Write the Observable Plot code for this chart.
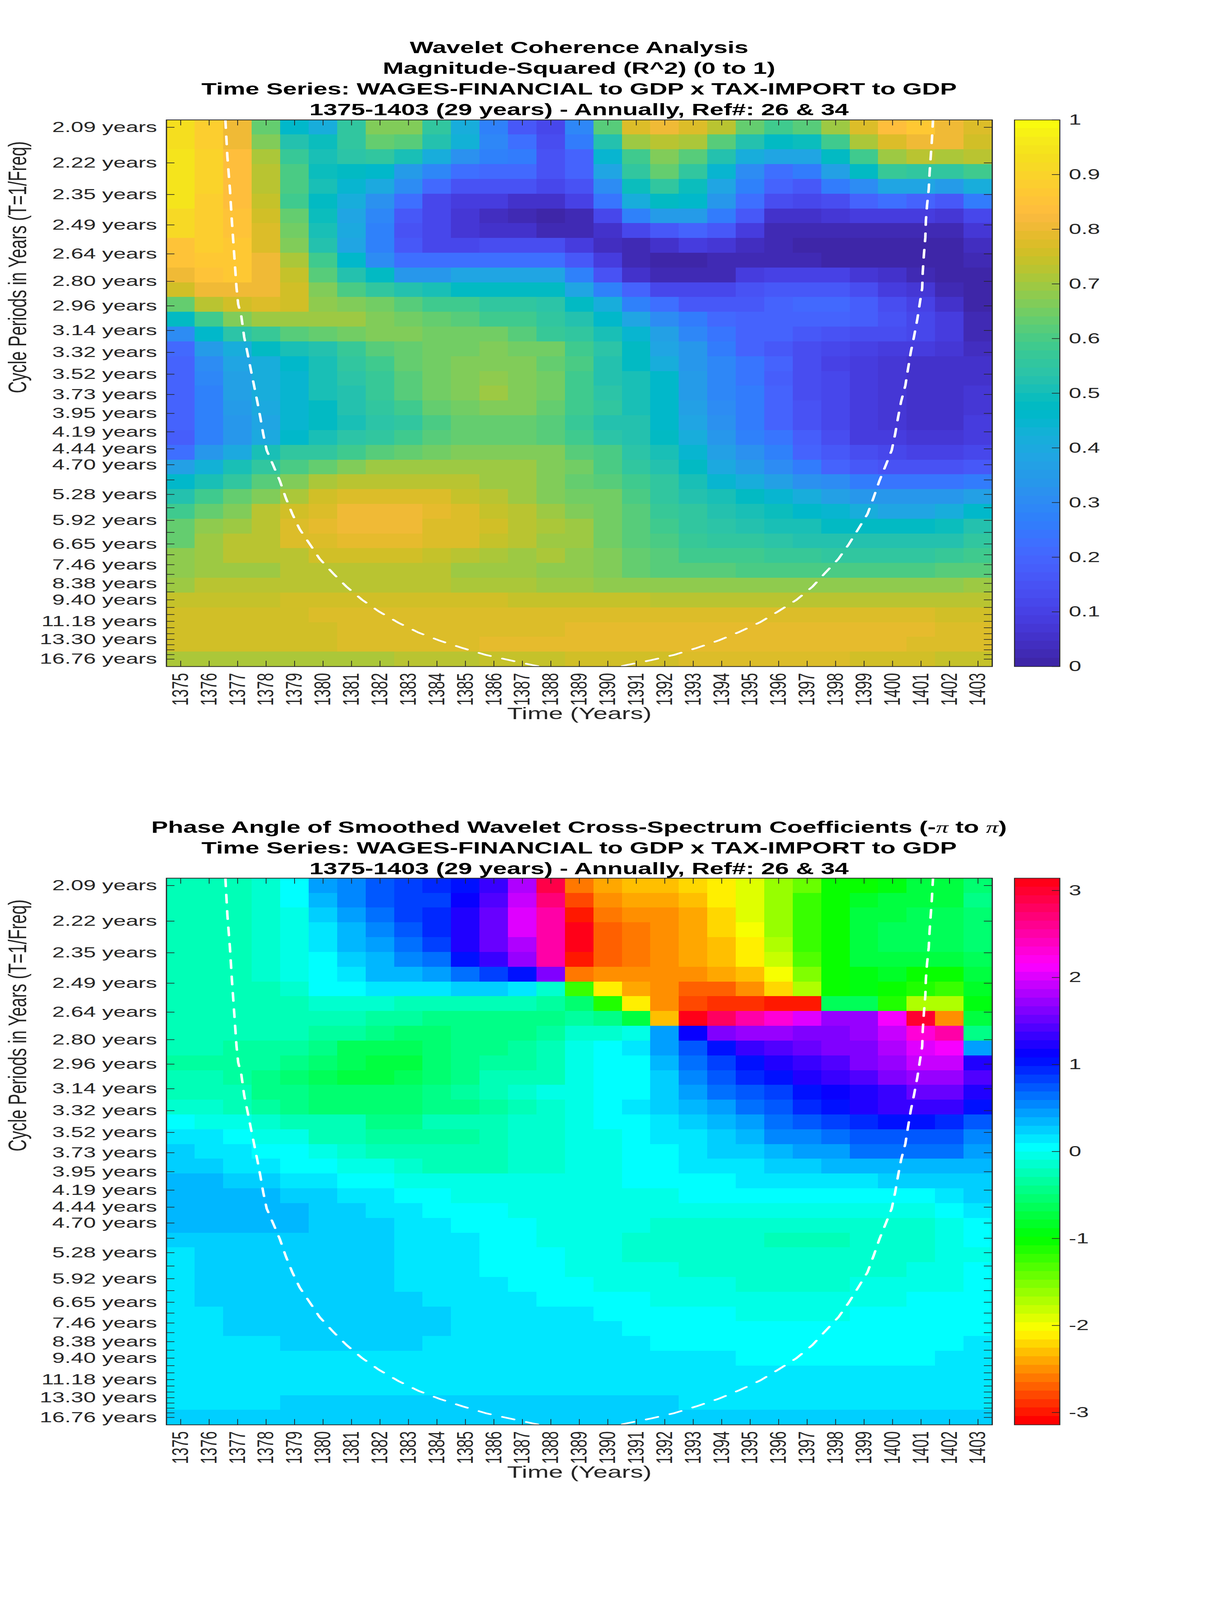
<!DOCTYPE html>
<html><head><meta charset="utf-8">
<script src="https://cdn.jsdelivr.net/npm/d3@7"></script>
<script src="https://cdn.jsdelivr.net/npm/@observablehq/plot@0.6"></script>
<style>
html,body{margin:0;padding:0;background:#fff;overflow:hidden;}
#page{position:relative;width:3125px;height:6252px;overflow:hidden;background:#fff;font-family:"Liberation Sans",Arial,sans-serif;transform-origin:0 0;}
.title{position:absolute;left:0;width:2964px;text-align:center;font-weight:bold;font-size:64px;line-height:81px;color:#000;white-space:pre;}
.pi{font-family:"Liberation Serif",serif;font-style:italic;font-weight:normal;}
</style></head><body><div id="page"></div>
<script>
const years=[1375,1376,1377,1378,1379,1380,1381,1382,1383,1384,1385,1386,1387,1388,1389,1390,1391,1392,1393,1394,1395,1396,1397,1398,1399,1400,1401,1402,1403];
const periods=[2.09,2.22,2.35,2.49,2.64,2.80,2.96,3.14,3.32,3.52,3.73,3.95,4.19,4.44,4.70,4.98,5.28,5.59,5.92,6.27,6.65,7.05,7.46,7.91,8.38,8.88,9.40,9.96,10.55,11.18,11.85,12.55,13.30,14.08,14.92,15.81,16.76];
const unlabelled=[4.98,5.59,6.27,7.05,7.91,8.88,9.96,10.55,11.85,12.55,14.08,14.92,15.81];

const coherence=[
[.93,.88,.80,.64,.46,.42,.56,.67,.67,.55,.42,.27,.16,.11,.29,.61,.78,.81,.78,.72,.64,.58,.61,.69,.77,.84,.86,.81,.78],
[.93,.89,.81,.67,.53,.49,.55,.63,.62,.52,.43,.29,.22,.14,.25,.52,.69,.73,.71,.61,.53,.48,.49,.59,.71,.78,.81,.80,.76],
[.94,.90,.83,.71,.57,.50,.54,.56,.51,.41,.32,.28,.25,.15,.19,.44,.59,.66,.62,.53,.41,.38,.39,.47,.59,.69,.72,.71,.72],
[.94,.90,.84,.72,.60,.49,.47,.46,.35,.29,.23,.21,.21,.15,.19,.38,.55,.64,.55,.45,.31,.23,.25,.37,.47,.57,.56,.55,.59],
[.94,.90,.84,.73,.60,.50,.45,.40,.30,.21,.15,.15,.15,.11,.15,.30,.49,.55,.49,.39,.28,.20,.17,.25,.30,.38,.38,.35,.42],
[.94,.89,.84,.74,.59,.47,.41,.32,.23,.12,.09,.08,.06,.05,.10,.24,.42,.48,.46,.33,.23,.14,.12,.14,.20,.22,.20,.17,.25],
[.91,.88,.85,.75,.63,.49,.39,.29,.17,.11,.07,.04,.03,.01,.02,.12,.28,.35,.35,.25,.16,.06,.06,.07,.08,.09,.09,.07,.12],
[.91,.88,.85,.77,.65,.50,.40,.27,.15,.11,.07,.06,.05,.03,.02,.05,.12,.16,.19,.16,.09,.03,.02,.03,.03,.03,.03,.03,.07],
[.85,.89,.86,.78,.67,.53,.39,.27,.16,.12,.12,.13,.13,.13,.09,.04,.03,.05,.08,.07,.04,.02,.01,.01,.01,.01,.01,.01,.04],
[.85,.87,.86,.80,.71,.58,.46,.30,.23,.23,.23,.23,.23,.23,.16,.08,.02,.005,.015,.02,.02,.02,.02,.01,.01,.01,.01,.01,.03],
[.81,.85,.86,.81,.74,.61,.52,.47,.34,.34,.38,.39,.39,.39,.28,.15,.06,.02,.02,.03,.08,.10,.10,.10,.07,.05,.03,.01,.00],
[.75,.81,.81,.80,.75,.67,.60,.56,.53,.50,.48,.48,.48,.47,.39,.28,.20,.12,.11,.12,.15,.16,.17,.17,.14,.09,.07,.03,.00],
[.64,.73,.75,.78,.75,.68,.67,.65,.62,.59,.58,.56,.55,.54,.47,.41,.28,.23,.17,.16,.17,.19,.21,.21,.18,.14,.10,.06,.01],
[.47,.58,.66,.69,.69,.69,.69,.67,.65,.64,.62,.59,.58,.55,.53,.46,.38,.30,.25,.21,.20,.20,.20,.19,.18,.15,.11,.08,.02],
[.31,.46,.54,.57,.61,.63,.65,.67,.67,.65,.65,.65,.62,.57,.55,.51,.44,.36,.29,.24,.20,.19,.17,.15,.14,.13,.12,.08,.03],
[.21,.35,.42,.47,.50,.53,.57,.61,.63,.65,.65,.67,.65,.65,.59,.54,.47,.38,.33,.26,.20,.17,.13,.12,.10,.09,.08,.07,.04],
[.20,.30,.38,.42,.46,.51,.55,.58,.63,.65,.67,.67,.67,.63,.60,.53,.48,.41,.34,.29,.24,.19,.14,.10,.09,.07,.06,.06,.06],
[.20,.29,.36,.41,.45,.50,.54,.57,.61,.65,.66,.68,.67,.65,.59,.53,.50,.46,.35,.29,.24,.18,.13,.11,.08,.07,.06,.06,.06],
[.19,.28,.36,.41,.45,.50,.53,.57,.61,.65,.67,.69,.67,.65,.59,.54,.50,.46,.35,.29,.25,.20,.13,.11,.08,.07,.06,.06,.07],
[.19,.28,.35,.40,.44,.48,.52,.55,.59,.63,.65,.67,.66,.63,.58,.55,.51,.46,.37,.30,.25,.20,.15,.11,.09,.07,.06,.06,.07],
[.19,.27,.34,.39,.44,.47,.51,.54,.56,.60,.63,.64,.64,.61,.57,.53,.52,.46,.39,.32,.26,.20,.15,.11,.09,.07,.06,.06,.08],
[.18,.27,.34,.40,.46,.51,.54,.56,.58,.61,.64,.64,.64,.62,.58,.54,.52,.47,.42,.33,.28,.24,.18,.13,.09,.08,.07,.07,.08],
[.22,.33,.40,.50,.55,.56,.58,.61,.63,.65,.67,.67,.67,.66,.62,.60,.54,.50,.45,.37,.32,.27,.20,.16,.13,.11,.10,.10,.12],
[.36,.43,.50,.55,.60,.63,.67,.69,.69,.70,.70,.70,.69,.67,.65,.60,.56,.53,.47,.40,.35,.30,.25,.20,.17,.15,.15,.15,.16],
[.46,.51,.55,.61,.66,.71,.72,.73,.73,.73,.72,.70,.69,.67,.64,.62,.58,.55,.50,.45,.41,.37,.32,.30,.26,.24,.24,.24,.26],
[.53,.58,.64,.67,.71,.75,.77,.78,.78,.77,.74,.72,.70,.67,.65,.65,.60,.56,.53,.50,.47,.45,.41,.37,.34,.33,.33,.33,.36],
[.58,.64,.67,.72,.76,.78,.80,.81,.81,.79,.77,.74,.72,.69,.67,.65,.61,.57,.55,.52,.50,.49,.46,.44,.42,.39,.39,.41,.46],
[.63,.68,.69,.73,.77,.79,.81,.81,.81,.78,.78,.76,.72,.71,.69,.65,.62,.58,.56,.54,.53,.51,.50,.48,.47,.47,.47,.49,.52],
[.64,.69,.72,.73,.77,.78,.79,.79,.79,.78,.77,.74,.72,.69,.69,.65,.62,.60,.57,.56,.56,.54,.53,.52,.52,.52,.52,.53,.55],
[.68,.70,.72,.73,.73,.75,.75,.75,.75,.74,.73,.71,.70,.71,.68,.66,.64,.61,.59,.58,.58,.57,.57,.56,.56,.56,.56,.57,.58],
[.68,.69,.70,.70,.72,.72,.72,.72,.72,.72,.70,.70,.69,.68,.68,.66,.63,.62,.61,.61,.60,.60,.60,.60,.60,.60,.60,.61,.62],
[.70,.72,.72,.72,.72,.72,.72,.72,.72,.72,.71,.71,.71,.70,.70,.68,.68,.68,.68,.68,.68,.68,.68,.68,.68,.68,.68,.68,.69],
[.74,.74,.74,.74,.76,.76,.76,.76,.76,.76,.76,.76,.74,.74,.74,.74,.74,.72,.72,.72,.72,.72,.72,.72,.72,.72,.72,.72,.72],
[.76,.76,.76,.76,.76,.78,.78,.78,.78,.78,.78,.78,.78,.78,.78,.78,.78,.78,.78,.78,.78,.78,.78,.78,.78,.78,.78,.76,.76],
[.76,.76,.76,.76,.76,.76,.78,.78,.78,.78,.78,.78,.78,.78,.79,.79,.79,.79,.79,.79,.79,.79,.79,.79,.79,.79,.79,.77,.77],
[.76,.76,.76,.76,.76,.76,.77,.77,.77,.77,.77,.785,.785,.785,.785,.785,.79,.79,.79,.79,.79,.79,.79,.79,.79,.79,.78,.78,.78],
[.71,.71,.71,.71,.71,.71,.71,.71,.72,.72,.72,.74,.74,.74,.755,.755,.755,.755,.77,.77,.77,.77,.77,.77,.755,.755,.755,.74,.74]
];

const phase=[
[-.27,-.27,-.27,-.12,0,.45,.58,.74,.82,.9,1.05,1.3,1.85,2.93,-2.6,-2.45,-2.35,-2.35,-2.25,-2.15,-1.87,-1.65,-1.42,-1.05,-1.05,-.95,-.75,-.75,-.55],
[-.27,-.27,-.27,-.12,0,.35,.52,.72,.8,.85,1.17,1.45,1.87,2.73,-2.8,-2.5,-2.45,-2.45,-2.35,-2.13,-1.95,-1.65,-1.25,-1.05,-.8,-.75,-.7,-.7,-.44],
[-.27,-.27,-.27,-.15,-.08,.25,.45,.62,.85,.98,1.2,1.52,2.0,2.5,-3.0,-2.62,-2.55,-2.48,-2.4,-2.25,-1.95,-1.65,-1.22,-1.05,-.72,-.72,-.62,-.62,-.57],
[-.27,-.27,-.27,-.15,-.08,.1,.35,.55,.72,.9,1.22,1.55,2.0,2.5,3.14,-2.73,-2.6,-2.5,-2.42,-2.22,-2.03,-1.65,-1.22,-1.05,-.72,-.65,-.65,-.65,-.57],
[-.27,-.27,-.27,-.15,-.08,.12,.35,.45,.68,.82,1.18,1.55,1.85,2.48,3.14,-2.73,-2.6,-2.5,-2.42,-2.35,-2.13,-1.75,-1.22,-1.05,-.72,-.68,-.65,-.65,-.57],
[-.27,-.27,-.27,-.15,-.08,0,.28,.38,.55,.65,1.05,1.32,1.72,2.5,-3.02,-2.73,-2.62,-2.5,-2.42,-2.35,-2.15,-1.82,-1.3,-1.05,-.75,-.72,-.72,-.72,-.62],
[-.27,-.27,-.27,-.15,-.08,0,.12,.35,.35,.45,.65,.85,1.05,1.58,-2.58,-2.5,-2.5,-2.5,-2.5,-2.45,-2.35,-1.98,-1.5,-1.05,-.97,-.85,-1.0,-1.05,-.72],
[-.27,-.27,-.27,-.2,-.15,0,.03,.1,.1,.1,.22,.22,.1,-.15,-1.27,-2.13,-2.42,-2.55,-2.68,-2.68,-2.55,-2.22,-1.68,-1.05,-.98,-1.03,-1.15,-1.25,-.85],
[-.27,-.27,-.27,-.2,-.2,-.12,-.12,-.12,-.2,-.2,-.27,-.25,-.25,-.3,-.57,-1.15,-2.13,-2.55,-2.78,-2.85,-2.93,-3.02,-3.02,-.65,-.65,-1.15,-1.75,-1.68,-.9],
[-.25,-.25,-.25,-.25,-.25,-.25,-.25,-.36,-.36,-.4,-.4,-.4,-.4,-.4,-.34,-.44,-.72,-2.35,3.05,2.75,2.48,2.27,2.0,1.75,1.75,2.15,2.95,-2.55,-.72],
[-.25,-.25,-.25,-.25,-.25,-.36,-.36,-.44,-.53,-.53,-.48,-.42,-.42,-.3,-.12,-.12,-.08,.45,1.17,1.63,1.72,1.72,1.6,1.6,1.72,1.95,2.27,2.55,-.44],
[-.25,-.25,-.33,-.34,-.36,-.48,-.6,-.6,-.62,-.57,-.48,-.41,-.34,-.25,-.05,.07,.12,.45,.77,1.05,1.3,1.38,1.55,1.58,1.65,1.82,1.98,2.09,.4],
[-.3,-.3,-.3,-.36,-.48,-.57,-.68,-.75,-.75,-.57,-.48,-.36,-.3,-.25,-.08,0,.07,.3,.62,.88,1.05,1.22,1.33,1.42,1.65,1.75,1.87,1.87,1.22],
[-.27,-.27,-.34,-.42,-.53,-.62,-.72,-.72,-.65,-.53,-.4,-.25,-.25,-.22,-.05,0,.09,.25,.53,.72,.9,1.05,1.25,1.3,1.4,1.65,1.7,1.72,1.45],
[-.22,-.22,-.28,-.4,-.48,-.55,-.55,-.55,-.55,-.42,-.33,-.25,-.15,-.08,-.03,0,.09,.2,.42,.6,.77,.88,1.05,1.17,1.25,1.35,1.55,1.55,1.25],
[-.12,-.15,-.22,-.3,-.48,-.53,-.53,-.53,-.53,-.4,-.4,-.3,-.22,-.15,-.08,0,.15,.22,.33,.45,.62,.75,.9,1.05,1.2,1.3,1.3,1.3,1.05],
[0,-.05,-.06,-.15,-.22,-.25,-.27,-.4,-.4,-.25,-.25,-.25,-.15,-.12,-.08,0,0,.17,.25,.33,.42,.65,.73,.83,.93,1.05,1.05,.93,.7],
[.1,.1,0,-.03,-.08,-.22,-.22,-.3,-.3,-.3,-.3,-.22,-.15,-.13,-.08,-.08,0,.17,.17,.23,.33,.52,.53,.65,.78,.78,.78,.78,.52],
[.27,.12,.1,0,0,-.08,-.15,-.25,-.25,-.25,-.25,-.22,-.15,-.15,-.08,-.06,0,0,.17,.25,.27,.35,.45,.45,.6,.62,.62,.62,.45],
[.27,.2,.15,.13,0,0,-.06,-.06,-.12,-.22,-.22,-.22,-.15,-.12,-.08,-.06,0,0,.15,.15,.15,.25,.25,.37,.37,.37,.37,.37,.37],
[.37,.37,.27,.25,.12,.12,0,0,-.06,-.08,-.08,-.08,-.08,-.08,-.08,-.08,0,0,0,0,.12,.12,.12,.12,.12,.22,.22,.22,.22],
[.37,.37,.37,.37,.27,.27,.15,.15,0,0,-.08,-.08,-.08,-.08,-.08,-.08,-.08,-.08,0,0,0,0,0,0,0,0,0,.12,.22],
[.37,.37,.37,.37,.37,.25,.25,.12,.12,0,0,0,-.08,-.08,-.08,-.08,-.08,-.08,-.08,-.08,-.08,-.08,-.08,-.08,-.08,-.08,-.08,0,.12],
[.37,.37,.37,.37,.37,.25,.25,.25,.17,.17,0,0,0,-.08,-.08,-.08,-.08,-.15,-.15,-.15,-.15,-.15,-.15,-.15,-.15,-.15,-.15,-.08,0],
[.25,.25,.25,.25,.25,.25,.25,.25,.17,.17,.17,0,0,-.08,-.08,-.08,-.15,-.15,-.15,-.15,-.15,-.22,-.22,-.22,-.15,-.15,-.15,-.08,0],
[.1,.25,.25,.25,.25,.25,.25,.25,.15,.15,.15,0,0,0,-.08,-.08,-.15,-.15,-.15,-.15,-.15,-.15,-.15,-.15,-.15,-.15,-.15,-.08,-.08],
[.1,.25,.25,.25,.25,.25,.25,.25,.15,.15,.15,0,0,0,-.08,-.08,-.08,-.08,-.15,-.15,-.15,-.15,-.15,-.15,-.15,-.15,-.08,-.08,0],
[.1,.25,.25,.25,.25,.25,.25,.25,.15,.15,.15,.1,0,0,0,-.08,-.08,-.08,-.08,-.08,-.15,-.15,-.15,-.15,-.08,-.08,-.08,-.08,0],
[.1,.27,.27,.27,.27,.27,.27,.27,.27,.13,.13,.13,.13,.03,0,0,0,-.08,-.08,-.08,-.08,-.08,-.08,-.08,-.08,-.08,0,0,0],
[.12,.12,.27,.27,.27,.27,.27,.27,.27,.27,.13,.13,.13,.13,.13,0,0,0,0,0,-.08,-.08,-.08,-.08,0,0,0,0,0],
[.12,.12,.27,.27,.27,.27,.27,.27,.27,.27,.12,.12,.12,.12,.12,.12,0,0,0,0,0,0,0,0,0,0,0,0,0],
[.12,.12,.12,.12,.27,.27,.27,.27,.27,.12,.12,.12,.12,.12,.12,.12,.12,0,0,0,0,0,0,0,0,0,0,0,.12],
[.12,.12,.12,.12,.12,.12,.12,.12,.12,.12,.12,.12,.12,.12,.12,.12,.12,.12,.12,.12,0,0,0,0,0,0,0,.12,.12],
[.12,.12,.12,.12,.12,.12,.12,.12,.12,.12,.12,.12,.12,.12,.12,.12,.12,.12,.12,.12,.12,.12,.12,.12,.12,.12,.12,.12,.12],
[.12,.12,.12,.12,.12,.12,.12,.12,.12,.12,.12,.12,.12,.12,.12,.12,.12,.12,.12,.12,.12,.12,.12,.12,.12,.12,.12,.12,.12],
[.12,.12,.12,.12,.2,.2,.2,.2,.2,.2,.2,.2,.2,.2,.2,.2,.2,.2,.12,.12,.12,.12,.12,.12,.12,.12,.12,.12,.12],
[.2,.2,.2,.2,.2,.2,.2,.2,.2,.2,.2,.2,.2,.2,.2,.2,.2,.2,.2,.2,.2,.2,.2,.2,.2,.2,.2,.2,.2]
];

// Cone of influence: year and position in rows counted from the top.
const coiYear=[1376.57,1376.64,1376.73,1376.80,1376.88,1376.96,1377.02,1377.13,1377.23,1377.34,1377.46,1377.57,1377.69,1377.80,1377.90,1378.02,1378.25,1378.48,1378.69,1378.92,1379.18,1379.54,1379.88,1380.35,1380.82,1381.37,1381.95,1382.65,1383.35,1384.10,1384.90,1385.71,1386.55,1387.35,1387.63,1389.03,1390.43,1390.66,1391.52,1392.33,1393.11,1393.90,1394.64,1395.36,1395.99,1396.63,1397.19,1397.62,1398.10,1398.46,1398.79,1399.12,1399.33,1399.54,1399.76,1399.97,1400.09,1400.19,1400.30,1400.45,1400.54,1400.64,1400.75,1400.87,1400.97,1401.04,1401.06,1401.10,1401.15,1401.17,1401.21,1401.27,1401.30,1401.34,1401.38,1401.42];
const coiRow=[0,2.5,4.71,6.92,9.13,11.35,12.48,13.29,14.70,15.72,16.88,17.92,19.06,20.17,21.27,22.36,23.38,24.42,25.58,26.67,27.71,28.73,29.71,30.69,31.59,32.48,33.26,34.04,34.70,35.25,35.75,36.21,36.57,36.90,37,37.5,37,36.90,36.57,36.21,35.75,35.23,34.64,33.99,33.26,32.48,31.59,30.69,29.71,28.73,27.71,26.67,25.58,24.42,23.38,22.36,21.27,20.17,19.06,17.97,16.88,15.72,14.70,13.48,12.24,11.39,10.28,9.13,7.97,6.81,5.79,4.70,3.59,2.50,1.40,0];

const parula=[[.2422,.1504,.6603],[.2504,.1650,.7076],[.2578,.1818,.7511],[.2647,.1978,.7952],[.2706,.2147,.8364],[.2751,.2342,.8710],[.2783,.2559,.8991],[.2803,.2782,.9221],
[.2813,.3006,.9414],[.2810,.3228,.9579],[.2795,.3447,.9717],[.2760,.3667,.9829],[.2699,.3892,.9906],[.2602,.4123,.9952],[.2440,.4358,.9988],[.2206,.4603,.9973],
[.1963,.4847,.9892],[.1834,.5074,.9798],[.1786,.5289,.9682],[.1764,.5499,.9520],[.1687,.5703,.9359],[.1540,.5902,.9218],[.1460,.6091,.9079],[.1380,.6276,.8973],
[.1248,.6459,.8883],[.1113,.6635,.8763],[.0952,.6798,.8598],[.0689,.6948,.8394],[.0297,.7082,.8163],[.0036,.7203,.7917],[.0067,.7312,.7660],[.0433,.7411,.7394],
[.0964,.7500,.7120],[.1408,.7584,.6842],[.1717,.7670,.6554],[.1938,.7758,.6251],[.2161,.7843,.5923],[.2470,.7918,.5567],[.2906,.7973,.5188],[.3406,.8008,.4789],
[.3909,.8029,.4354],[.4456,.8024,.3909],[.5044,.7993,.3480],[.5616,.7942,.3045],[.6174,.7876,.2612],[.6720,.7793,.2227],[.7242,.7698,.1910],[.7738,.7598,.1646],
[.8203,.7498,.1535],[.8634,.7406,.1596],[.9035,.7330,.1774],[.9393,.7288,.2100],[.9728,.7298,.2394],[.9956,.7434,.2371],[.9970,.7659,.2199],[.9952,.7861,.1991],
[.9892,.8086,.1827],[.9786,.8290,.1633],[.9676,.8507,.1447],[.9610,.8720,.1235],[.9597,.8941,.1111],[.9628,.9157,.1006],[.9691,.9500,.0800],[.9769,.9839,.0538]];

const parulaHex=parula.map(([r,g,b])=>d3.rgb(r*255,g*255,b*255).formatHex());
const hsvHex=d3.range(64).map(i=>d3.hsl(i*360/64,1,.5).formatHex());
const TICKS=[0,.1,.2,.3,.4,.5,.6,.7,.8,.9,1];
const PHASE_TICKS=[-3,-2,-1,0,1,2,3];

const f0=1/periods[0], fN=1/periods[periods.length-1], df=(f0-fN)/36;
const freqOfRow=r=>f0-(r-.5)*df;
const freqTicks=periods.map(p=>1/p);
const plotW=2113.5, plotH=2136;
const TXT="#262626";
const page=document.getElementById("page");
const baseStyle={fontFamily:'"Liberation Sans",Arial,sans-serif',fontSize:"57.5px",color:TXT,background:"transparent",overflow:"visible"};

// The full layout is 6252 tall. When the window is shorter than that, fit the page to it.
const fit=Math.min(1,window.innerHeight/6252);
page.style.transform="scale(1,"+fit+")";

function heat(matrix,domain,range,top){
  const cells=matrix.flatMap((r,i)=>r.map((v,j)=>({year:years[j],row:i,v})));
  const coi=coiYear.map((year,i)=>({year,row:coiRow[i]}));
  const svg=Plot.plot({
    width:2559,height:2456,marginLeft:425.5,marginRight:20,marginTop:20,marginBottom:300,style:baseStyle,
    x:{domain:[1374.5,1403.5]},
    y:{domain:[freqOfRow(37),freqOfRow(0)]},
    color:{type:"threshold",domain,range},
    marks:[
      Plot.rect(cells,{x1:d=>d.year-.5,x2:d=>d.year+.5,y1:d=>freqOfRow(d.row),y2:d=>freqOfRow(d.row+1),fill:"v",shapeRendering:"crispEdges"}),
      Plot.line(coi,{x:"year",y:d=>freqOfRow(d.row),stroke:"white",strokeWidth:6.5,strokeDasharray:"32,32",clip:true}),
      Plot.tickX(years,{x:d=>d,insetBottom:plotH-22,stroke:TXT,strokeWidth:2}),
      Plot.tickX(years,{x:d=>d,insetTop:plotH-22,stroke:TXT,strokeWidth:2}),
      Plot.tickY(freqTicks,{y:d=>d,insetRight:plotW-21,stroke:TXT,strokeWidth:2.5}),
      Plot.tickY(freqTicks,{y:d=>d,insetLeft:plotW-21,stroke:TXT,strokeWidth:2.5}),
      Plot.frame({stroke:TXT,strokeWidth:3}),
      Plot.axisX({ticks:years,tickSize:0,tickPadding:25,tickRotate:-90,tickFormat:d=>String(d),label:null,stroke:"none",fill:TXT}),
      Plot.axisY({ticks:freqTicks,tickSize:0,tickPadding:24,label:null,fill:TXT,
        tickFormat:f=>{const p=periods[freqTicks.indexOf(f)];return unlabelled.includes(p)?"":p.toFixed(2)+" years";}}),
      Plot.text(["Time (Years)"],{frameAnchor:"bottom",dy:206,fontSize:65.5,fill:TXT}),
      Plot.text(["Cycle Periods in Years (T=1/Freq)"],{frameAnchor:"left",dx:-380,rotate:-90,fontSize:65.5,fill:TXT})
    ]
  });
  svg.style.position="absolute";svg.style.left="0px";svg.style.top=(top-20)+"px";
  page.appendChild(svg);
}

function bar(domain,range,ext,ticks,top){
  const edges=[ext[0],...domain,ext[1]];
  const levels=d3.range(64).map(i=>({lo:edges[i],hi:edges[i+1],mid:(edges[i]+edges[i+1])/2}));
  const svg=Plot.plot({
    width:300,height:2176,marginLeft:10,marginRight:174,marginTop:20,marginBottom:20,style:baseStyle,
    x:{domain:[0,1],axis:null},y:{domain:ext},
    color:{type:"threshold",domain,range},
    marks:[
      Plot.rect(levels,{x1:0,x2:1,y1:"lo",y2:"hi",fill:"mid",shapeRendering:"crispEdges"}),
      Plot.tickY(ticks,{y:d=>d,insetLeft:96,stroke:TXT,strokeWidth:2.5}),
      Plot.frame({stroke:TXT,strokeWidth:2.5}),
      Plot.axisY({anchor:"right",ticks,tickSize:0,tickPadding:23,label:null,fill:TXT,tickFormat:d=>String(d)})
    ]
  });
  svg.style.position="absolute";svg.style.left="2586px";svg.style.top=(top-20)+"px";
  page.appendChild(svg);
}

function title(lines,top){
  lines.forEach((html,i)=>{
    const d=document.createElement("div");d.className="title";d.style.top=(top+i*81)+"px";d.innerHTML=html;page.appendChild(d);
  });
}

const cohDomain=d3.range(1,64).map(i=>i/64);
const phaseDomain=d3.range(1,64).map(i=>-Math.PI+i*2*Math.PI/64);

title(["Wavelet Coherence Analysis","Magnitude-Squared (R^2) (0 to 1)","Time Series: WAGES-FINANCIAL to GDP x TAX-IMPORT to GDP","1375-1403 (29 years) - Annually, Ref#: 26 &amp; 34"],146);
heat(coherence,cohDomain,parulaHex,468);
bar(cohDomain,parulaHex,[0,1],TICKS,468);

title(['Phase Angle of Smoothed Wavelet Cross-Spectrum Coefficients (-<span class="pi">π</span> to <span class="pi">π</span>)',"Time Series: WAGES-FINANCIAL to GDP x TAX-IMPORT to GDP","1375-1403 (29 years) - Annually, Ref#: 26 &amp; 34"],3192);
heat(phase,phaseDomain,hsvHex,3431);
bar(phaseDomain,hsvHex,[-Math.PI,Math.PI],PHASE_TICKS,3431);
</script></body></html>
